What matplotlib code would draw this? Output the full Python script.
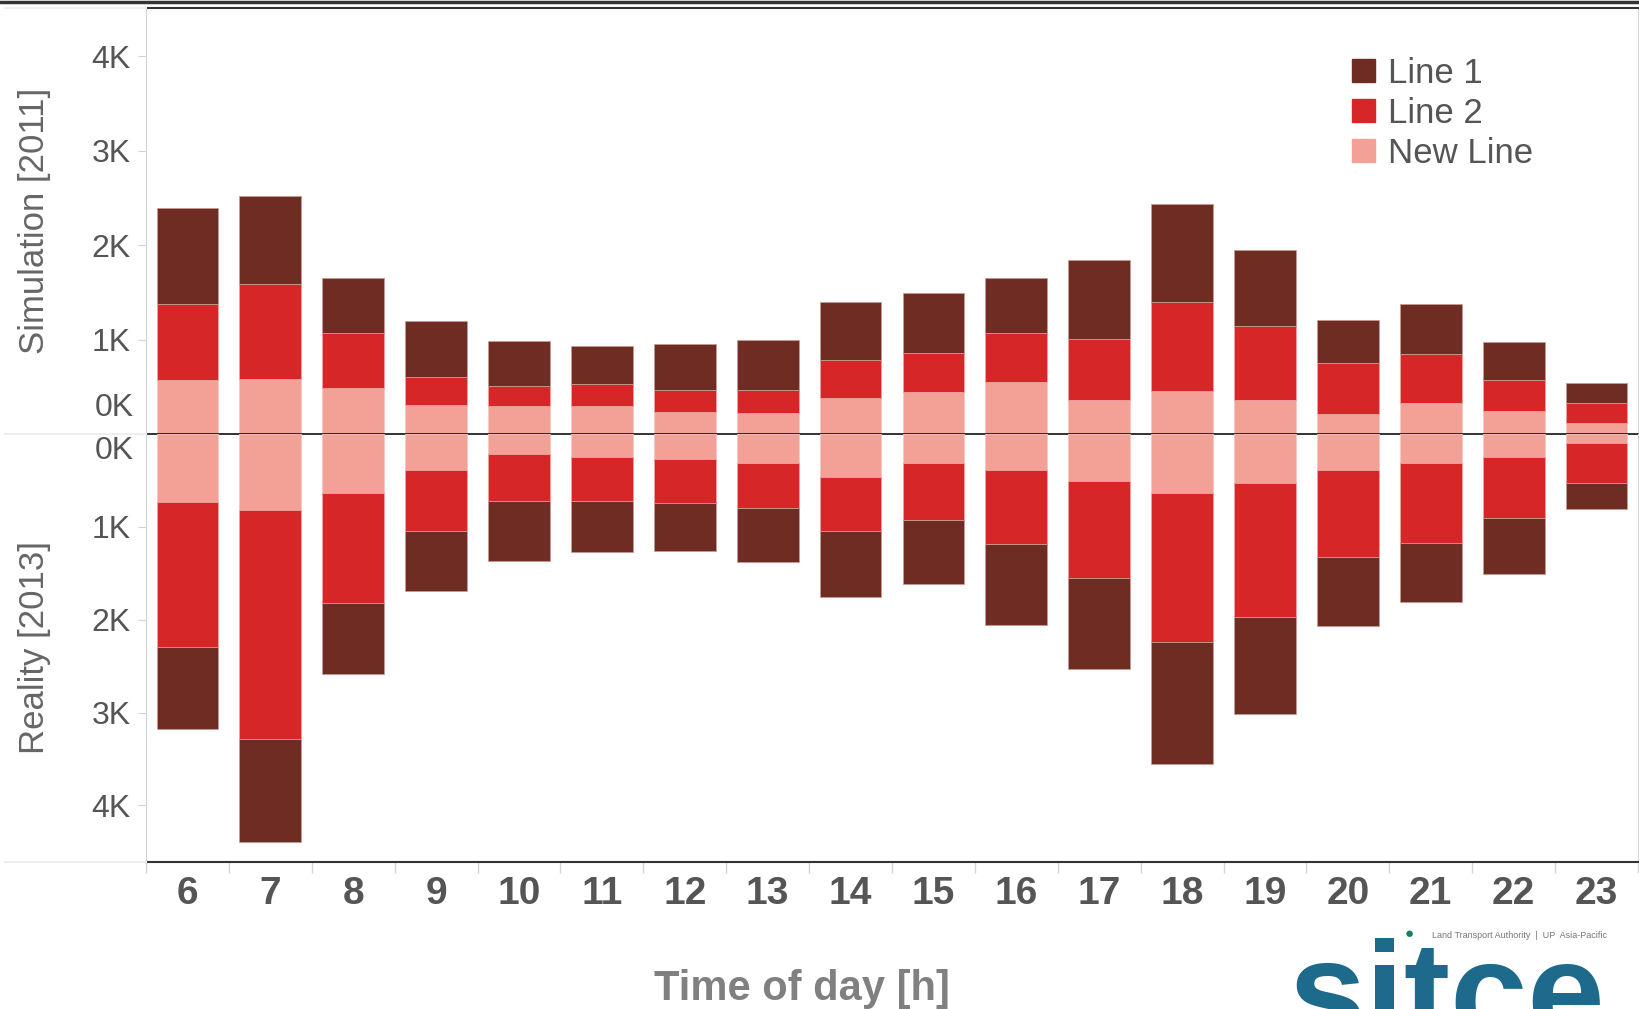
import matplotlib
matplotlib.use('Agg')
import matplotlib.pyplot as plt
from matplotlib.patches import Patch
from matplotlib.lines import Line2D
from matplotlib.ticker import FuncFormatter

plt.rcParams['font.family'] = ['Liberation Sans', 'DejaVu Sans']

# ------ data (passengers per hour)
hours = [6, 7, 8, 9, 10, 11, 12, 13, 14, 15, 16, 17, 18, 19, 20, 21, 22, 23]

sim_new_line = [570, 580, 490, 310, 300, 300, 230, 220, 380, 440, 550, 360, 450, 360, 210, 330, 240, 120]
sim_line2 = [810, 1010, 580, 290, 210, 230, 240, 250, 400, 420, 520, 650, 950, 780, 540, 520, 330, 210]
sim_line1 = [1010, 930, 580, 600, 470, 400, 480, 530, 620, 630, 580, 830, 1040, 810, 460, 530, 400, 210]

real_new_line = [730, 820, 640, 390, 220, 250, 270, 310, 460, 310, 390, 510, 640, 530, 390, 310, 250, 100]
real_line2 = [1560, 2460, 1180, 650, 500, 470, 470, 490, 580, 620, 790, 1040, 1600, 1440, 930, 860, 650, 430]
real_line1 = [890, 1110, 770, 650, 650, 550, 520, 580, 720, 690, 880, 980, 1310, 1050, 750, 640, 610, 280]

y_ticks = [0, 1000, 2000, 3000, 4000]

c_line1 = '#6f2c22'
c_line2 = '#d72628'
c_new = '#f3a097'
txt = '#555555'
grid_c = '#d4d4d4'

W, H = 1640, 1009
fig = plt.figure(figsize=(W / 100, H / 100), dpi=100)

left = 146 / W
right = 1638 / W
mid = 1 - 434 / H
top = 1 - 8 / H
bot = 1 - 862 / H

ax_top = fig.add_axes([left, mid, right - left, top - mid])
ax_bot = fig.add_axes([left, bot, right - left, mid - bot], sharex=ax_top)
ax_bot.patch.set_alpha(0)

x = list(range(len(hours)))
bw = 0.745


def stack(ax, new, l2, l1):
    b1 = [a + b for a, b in zip(new, l2)]
    ax.bar(x, new, bw, color=c_new, edgecolor='#f7c9c2', linewidth=0.6)
    ax.bar(x, l2, bw, bottom=new, color=c_line2, edgecolor='#f0a0a0', linewidth=0.6)
    ax.bar(x, l1, bw, bottom=b1, color=c_line1, edgecolor='#c89a94', linewidth=0.6)


stack(ax_top, sim_new_line, sim_line2, sim_line1)
stack(ax_bot, real_new_line, real_line2, real_line1)

ax_top.set_ylim(0, 4510)
ax_bot.set_ylim(4610, 0)
ax_top.set_xlim(-0.5, len(hours) - 0.5)

# 0K is written by hand below, so it can sit inside its own pane
fmt = FuncFormatter(lambda v, p: '' if v == 0 else '%dK' % round(v / 1000))
for ax in (ax_top, ax_bot):
    ax.set_yticks(y_ticks)
    ax.yaxis.set_major_formatter(fmt)
    ax.tick_params(axis='y', length=6, color=grid_c, labelcolor=txt, labelsize=23, pad=5)
    ax.spines['left'].set_color(grid_c)
    ax.spines['right'].set_color(grid_c)

ax_top.annotate('0K', xy=(0, 0), xycoords=ax_top.get_yaxis_transform(), xytext=(-12, 26),
                textcoords='offset pixels', ha='right', va='center', fontsize=23, color=txt)
ax_bot.annotate('0K', xy=(0, 0), xycoords=ax_bot.get_yaxis_transform(), xytext=(-12, -17),
                textcoords='offset pixels', ha='right', va='center', fontsize=23, color=txt)

ax_top.spines['top'].set_color('#333333')
ax_top.spines['top'].set_linewidth(1.5)
ax_top.spines['bottom'].set_color('#111111')
ax_top.spines['bottom'].set_linewidth(1.2)
ax_bot.spines['top'].set_visible(False)
ax_bot.spines['bottom'].set_color('#333333')
ax_bot.spines['bottom'].set_linewidth(1.5)

ax_top.tick_params(axis='x', which='both', bottom=False, labelbottom=False)
ax_bot.set_xticks(x)
ax_bot.set_xticklabels([str(h) for h in hours])
ax_bot.set_xticks([i - 0.5 for i in range(len(hours) + 1)], minor=True)
ax_bot.tick_params(axis='x', which='major', length=0, pad=10, labelsize=28, labelcolor=txt)
for lab in ax_bot.get_xticklabels():
    lab.set_fontweight('bold')
ax_bot.tick_params(axis='x', which='minor', length=8, color=grid_c, width=1)

ax_top.set_ylabel('Simulation [2011]', fontsize=25, color='#666666')
ax_bot.set_ylabel('Reality [2013]', fontsize=25, color='#666666')
ax_top.yaxis.set_label_coords(-0.064, 0.5)
ax_bot.yaxis.set_label_coords(-0.064, 0.5)

fig.text(802 / W, 1 - 989 / H, 'Time of day [h]', fontsize=30, fontweight='bold',
         color='#808080', ha='center', va='center')

handles = [Patch(color=c_line1, label='Line 1'),
           Patch(color=c_line2, label='Line 2'),
           Patch(color=c_new, label='New Line')]
fig.legend(handles=handles, loc='upper left', bbox_to_anchor=(1345 / W, 1 - 50 / H),
           frameon=False, fontsize=25, labelcolor=txt, handlelength=0.65, handleheight=0.65,
           handletextpad=0.4, labelspacing=0.2, borderaxespad=0, borderpad=0.2)

# frame lines round the chart
fig.add_artist(Line2D([0, 1], [1 - 1.5 / H] * 2, transform=fig.transFigure, color='#333333', lw=2.5))
for yy in (8, 434, 862):
    fig.add_artist(Line2D([5 / W, left], [1 - yy / H] * 2, transform=fig.transFigure,
                          color='#eeeeee', lw=1.5))

# logo at bottom right (cut by the edge, as in the slide)
fig.text(1409 / W, 1 - 934 / H, '\u25CF', fontsize=11, color='#1a7d6a', ha='center', va='center')
fig.text(1432 / W, 1 - 935 / H, 'Land Transport Authority  |  UP  Asia-Pacific', fontsize=6.5,
         color='#777777', ha='left', va='center')
fig.text(1288 / W, 1 - 938 / H, 'sitce', fontsize=100, fontweight='bold', color='#1d6a8c',
         ha='left', va='top')

fig.savefig('out.png', dpi=100)
